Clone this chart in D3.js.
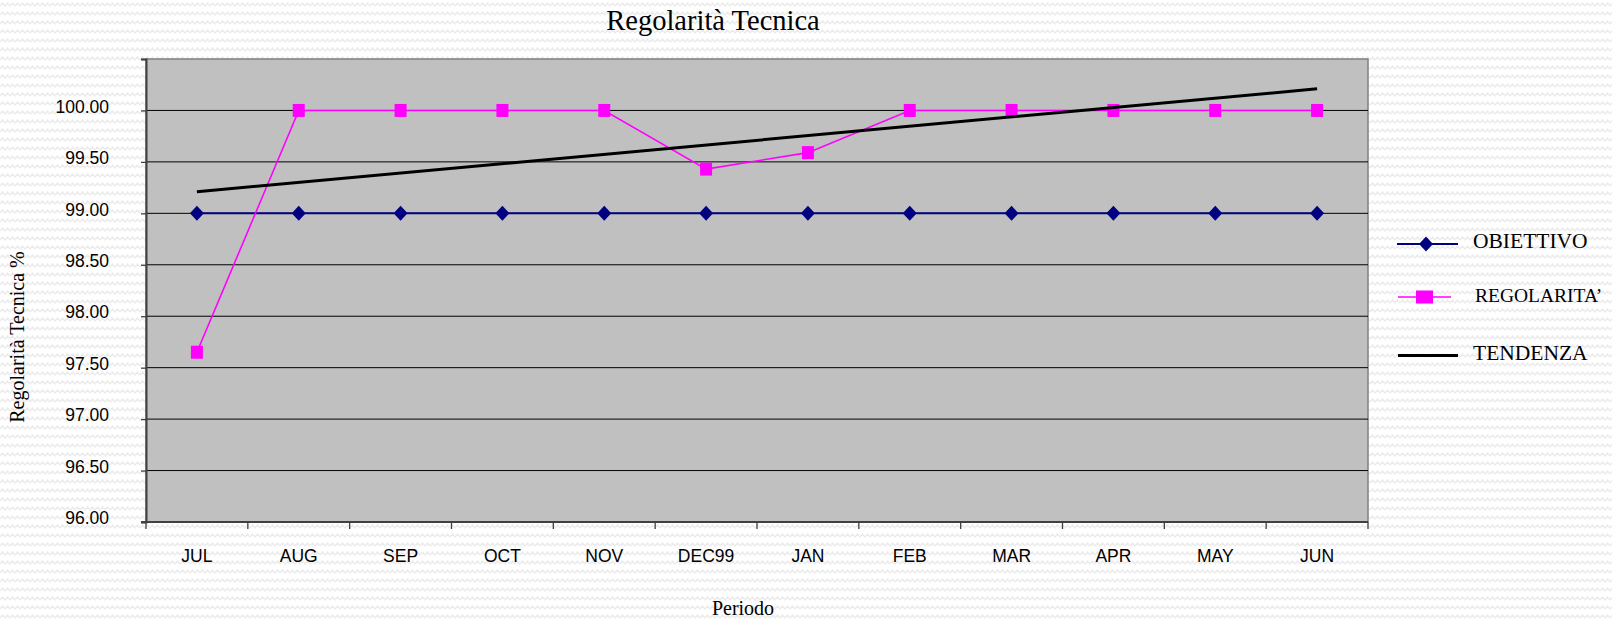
<!DOCTYPE html>
<html>
<head>
<meta charset="utf-8">
<script src="https://cdn.jsdelivr.net/npm/d3@7"></script>
<style>
  body { margin: 0; background: #fff; }
  svg { display: block; }
</style>
</head>
<body>
<script>
// data
var months = ["JUL","AUG","SEP","OCT","NOV","DEC99","JAN","FEB","MAR","APR","MAY","JUN"];
var obiettivo = [99, 99, 99, 99, 99, 99, 99, 99, 99, 99, 99, 99];
var regolarita = [97.65, 100, 100, 100, 100, 99.43, 99.59, 100, 100, 100, 100, 100];
// trend line, first and last month
var tendenzaMonths = ["JUL", "JUN"];
var tendenza = [99.21, 100.21];
var yTicks = [96, 96.5, 97, 97.5, 98, 98.5, 99, 99.5, 100, 100.5];

var width = 1612, height = 619;
var plotL = 146, plotR = 1368, plotT = 59, plotB = 522;

var svg = d3.select("body").append("svg")
  .attr("width", width).attr("height", height);

// wavy background
var defs = svg.append("defs");
var pat = defs.append("pattern").attr("id", "wave")
  .attr("patternUnits", "userSpaceOnUse").attr("width", 10).attr("height", 9);
pat.append("rect").attr("width", 10).attr("height", 9).attr("fill", "#ffffff");
pat.append("path").attr("d", "M0,6 L2.5,3 L5,6 L7.5,3 L10,6")
  .attr("fill", "none").attr("stroke", "#ebebeb").attr("stroke-width", 1.3);
svg.append("rect").attr("width", width).attr("height", height).attr("fill", "url(#wave)");

var x = d3.scaleBand().domain(months).range([plotL, plotR]);
var y = d3.scaleLinear().domain([96, 100.5]).range([plotB, plotT]);
var cx = function (m) { return x(m) + x.bandwidth() / 2; };

// plot area
svg.append("rect").attr("x", plotL).attr("y", plotT)
  .attr("width", plotR - plotL).attr("height", plotB - plotT)
  .attr("fill", "#c0c0c0").attr("stroke", "#808080").attr("stroke-width", 1.5);

// gridlines
svg.append("g").selectAll("line")
  .data(yTicks.filter(function (d) { return d > 96 && d < 100.5; }))
  .enter().append("line")
  .attr("x1", plotL).attr("x2", plotR)
  .attr("y1", function (d) { return y(d); }).attr("y2", function (d) { return y(d); })
  .attr("stroke", "#000").attr("stroke-width", 1);

// y axis
var yAxis = svg.append("g").attr("transform", "translate(" + plotL + ",0)")
  .call(d3.axisLeft(y).tickValues(yTicks).tickSize(5).tickPadding(32)
    .tickFormat(function (d) { return d === 100.5 ? "" : d3.format(".2f")(d); }));
yAxis.select(".domain").attr("stroke", "#404040").attr("stroke-width", 2);
yAxis.selectAll(".tick line").attr("stroke", "#404040").attr("stroke-width", 1.3);
yAxis.selectAll(".tick text").attr("font-family", "'Liberation Sans', Arial, sans-serif")
  .attr("font-size", "17.5px").attr("fill", "#000").attr("dy", "0.1em");

// x axis
svg.append("line").attr("x1", plotL - 5).attr("x2", plotR).attr("y1", plotB).attr("y2", plotB)
  .attr("stroke", "#404040").attr("stroke-width", 2);
var bounds = months.map(function (m) { return x(m); }).concat([plotR]);
svg.append("g").selectAll("line").data(bounds).enter().append("line")
  .attr("x1", function (d) { return d; }).attr("x2", function (d) { return d; })
  .attr("y1", plotB).attr("y2", plotB + 7)
  .attr("stroke", "#404040").attr("stroke-width", 1.3);
svg.append("g").selectAll("text").data(months).enter().append("text")
  .attr("x", function (d) { return cx(d); }).attr("y", 562)
  .attr("text-anchor", "middle")
  .attr("font-family", "'Liberation Sans', Arial, sans-serif").attr("font-size", "17.5px")
  .text(function (d) { return d; });

// OBIETTIVO
var line = d3.line().x(function (d, i) { return cx(months[i]); }).y(function (d) { return y(d); });
svg.append("path").datum(obiettivo).attr("d", line)
  .attr("fill", "none").attr("stroke", "#000080").attr("stroke-width", 2);
svg.append("g").selectAll("path").data(obiettivo).enter().append("path")
  .attr("transform", function (d, i) { return "translate(" + cx(months[i]) + "," + y(d) + ")"; })
  .attr("d", "M0,-7.5L7,0L0,7.5L-7,0Z").attr("fill", "#000080");

// REGOLARITA'
svg.append("path").datum(regolarita).attr("d", line)
  .attr("fill", "none").attr("stroke", "#ff00ff").attr("stroke-width", 1.6);
svg.append("g").selectAll("rect").data(regolarita).enter().append("rect")
  .attr("x", function (d, i) { return cx(months[i]) - 6; })
  .attr("y", function (d) { return y(d) - 6.5; })
  .attr("width", 12).attr("height", 13).attr("fill", "#ff00ff");

// TENDENZA
svg.append("line")
  .attr("x1", cx(tendenzaMonths[0])).attr("y1", y(tendenza[0]))
  .attr("x2", cx(tendenzaMonths[1])).attr("y2", y(tendenza[1]))
  .attr("stroke", "#000").attr("stroke-width", 3);

// titles
var serif = "'Liberation Serif', 'DejaVu Serif', serif";
svg.append("text").attr("x", 713).attr("y", 30).attr("text-anchor", "middle")
  .attr("font-family", serif).attr("font-size", "28.5px").text("Regolarità Tecnica");
svg.append("text").attr("transform", "translate(24,337) rotate(-90)").attr("text-anchor", "middle")
  .attr("font-family", serif).attr("font-size", "20px").text("Regolarità Tecnica %");
svg.append("text").attr("x", 743).attr("y", 615).attr("text-anchor", "middle")
  .attr("font-family", serif).attr("font-size", "20px").text("Periodo");

// legend
var lg = svg.append("g");
lg.append("line").attr("x1", 1397).attr("x2", 1458).attr("y1", 244).attr("y2", 244)
  .attr("stroke", "#000080").attr("stroke-width", 2);
lg.append("path").attr("transform", "translate(1426,244)")
  .attr("d", "M0,-7.5L7,0L0,7.5L-7,0Z").attr("fill", "#000080");
lg.append("line").attr("x1", 1398).attr("x2", 1451).attr("y1", 297).attr("y2", 297)
  .attr("stroke", "#ff00ff").attr("stroke-width", 1.6);
lg.append("rect").attr("x", 1416).attr("y", 290.5).attr("width", 17).attr("height", 13).attr("fill", "#ff00ff");
lg.append("line").attr("x1", 1398).attr("x2", 1458).attr("y1", 355.5).attr("y2", 355.5)
  .attr("stroke", "#000").attr("stroke-width", 3);
var legendText = [["OBIETTIVO", 1473, 248, "21.5px"], ["REGOLARITA’", 1475, 302, "19.5px"], ["TENDENZA", 1473, 360, "21.5px"]];
lg.selectAll("text").data(legendText).enter().append("text")
  .attr("x", function (d) { return d[1]; }).attr("y", function (d) { return d[2]; })
  .attr("font-family", serif).attr("font-size", function (d) { return d[3]; })
  .text(function (d) { return d[0]; });
</script>
</body>
</html>
